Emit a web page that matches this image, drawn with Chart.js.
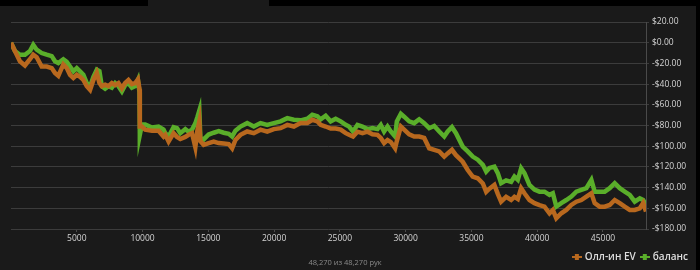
<!DOCTYPE html>
<html>
<head>
<meta charset="utf-8">
<script src="https://cdn.jsdelivr.net/npm/chart.js@4"></script>
<style>
  html, body { margin: 0; padding: 0; background: #1a1a1a; }
  #wrap { position: relative; width: 700px; height: 270px; overflow: hidden; }
  .bar { position: absolute; background: #000; }
  #hands { position: absolute; left: 0; width: 690px; top: 257px; text-align: center;
           font: 7.5px "Open Sans", sans-serif; color: #8a8a8a; }
</style>
</head>
<body>
<div id="wrap">
  <canvas id="chart" width="700" height="270"></canvas>
  <div class="bar" style="left:0;top:0;width:148px;height:6px"></div>
  <div class="bar" style="left:269px;top:0;width:431px;height:6px"></div>
  <div class="bar" style="left:696px;top:0;width:4px;height:270px"></div>
  <div id="hands">48,270 из 48,270 рук</div>
</div>
<script>
// hand number for each sample
const hands = [
  0, 297, 678, 1059, 1440, 1692, 1951, 2332, 2713, 3094,
  3345, 3597, 3978, 4237, 4488, 4740, 4999, 5250, 5502, 5761,
  6012, 6264, 6523, 6721, 6904, 7155, 7407, 7666, 7917, 8169,
  8428, 8679, 8931, 9190, 9441, 9647, 9769, 9792, 9952, 10203,
  10714, 11217, 11598, 11727, 11979, 12360, 12619, 12870, 13251, 13503,
  13762, 14013, 14166, 14318, 14394, 14646, 15027, 15408, 15789, 16170,
  16551, 16810, 17061, 17442, 17953, 18456, 18966, 19477, 19980, 20490,
  21001, 21504, 22014, 22525, 22906, 23287, 23538, 23919, 24300, 24681,
  25062, 25443, 25695, 25999, 26335, 26716, 27097, 27478, 27859, 28110,
  28362, 28621, 28872, 29200, 29329, 29634, 29886, 30267, 30648, 31029,
  31410, 31791, 32172, 32553, 32934, 33193, 33521, 33825, 34336, 34717,
  35098, 35479, 35868, 36121, 36372, 36745, 37004, 37256, 37637, 38018,
  38268, 38527, 38778, 39030, 39411, 39792, 40173, 40554, 40935, 41188,
  41451, 41832, 42213, 42594, 42975, 43356, 43737, 44118, 44369, 44750,
  45130, 45511, 45892, 46273, 46654, 47035, 47416, 47797, 48054, 48270
];

// all-in EV line ($)
const allInEV = [
  0, -8, -18, -22, -16, -11.5, -14, -23, -23, -24.5,
  -29.3, -32, -21, -24.5, -31, -34, -31, -33, -36, -42,
  -45.5, -36, -29.3, -39, -42, -40.6, -42, -39, -41, -39,
  -44, -39, -36, -40, -39, -35.5, -45, -81, -81, -84,
  -85, -85, -90.7, -89, -95.5, -87.4, -91, -93, -91, -89,
  -87.4, -101, -85, -76, -95, -98.7, -97, -95.5, -97, -97.5,
  -98, -102, -94, -89, -85.8, -87.4, -84, -86, -83.5, -82.6,
  -79.4, -81, -77.7, -77.7, -74.5, -76, -79.4, -81, -83, -83,
  -84, -87.4, -89, -90.7, -86, -87.4, -86, -88.5, -89, -92,
  -97, -94, -96, -102, -95, -81, -84, -88.5, -90.7, -90.7,
  -92, -102, -103.5, -105, -110, -107, -103.5, -108.7, -115, -123,
  -129.4, -131, -136, -144, -141, -137.4, -146, -153.6, -149, -152,
  -149, -151, -140.6, -145.5, -152, -155, -157, -158.4, -164.8, -161.6,
  -169.6, -164.8, -161.6, -156.8, -153.6, -152, -148.7, -145.5, -155, -158.4,
  -158.4, -156.8, -152, -155, -158.4, -161.6, -161.6, -160, -155, -163
];

// actual balance ($)
const balance = [
  0, -8, -11.6, -11.6, -8, -2, -6.8, -10, -11.6, -13,
  -18, -19.7, -16, -18.5, -23, -27.7, -24.5, -27.7, -31, -39,
  -42, -33, -26, -27.5, -42, -44.5, -42, -43.5, -39, -42,
  -47, -41, -39, -43.5, -42, -36, -48, -89, -79, -79,
  -82, -81, -84, -87.4, -90.7, -81.6, -82.5, -87.4, -83.5, -86,
  -84, -78, -72, -65.5, -92, -93.5, -88.7, -87, -85.5, -87,
  -88, -90.7, -85, -81, -77.7, -81, -77.7, -79.4, -77.7, -76,
  -72.9, -74.5, -75, -73.5, -69.7, -71, -74, -70.6, -76, -73.5,
  -76, -79.4, -81, -85.8, -79.4, -81, -83.5, -82.5, -83.5, -79.4,
  -85.8, -81, -85.8, -90.7, -76, -68.7, -71.5, -76, -77.7, -74,
  -77.7, -82.6, -80.5, -85.8, -90.7, -85.8, -81.6, -87.4, -100.4, -105,
  -110, -113, -118, -124.5, -121, -119.7, -126, -135.8, -133, -134.5,
  -129.4, -132.5, -121.3, -126, -137.4, -142, -143.9, -143.9, -147, -145.5,
  -158.4, -155, -152, -148.7, -143.9, -142.3, -140.6, -132.6, -143.9, -143.9,
  -143.9, -140.6, -135.8, -140.6, -143.9, -147, -153.6, -150.4, -152, -156.8
];

const seriesNames = ["Олл-ин EV", "баланс"];
const xTickValues = [5000, 10000, 15000, 20000, 25000, 30000, 35000, 40000, 45000];
const yTicks = { min: -180, max: 20, step: 20 };
const xRange = { min: 0, max: 48270 };

const orange = "#b8681e";
const green = "#5aae2a";
const labelFont = { family: "'Open Sans', sans-serif", size: 8.5 };

// little "line with a dot" legend marker
function marker(color) {
  const c = document.createElement("canvas");
  c.width = 10; c.height = 6;
  const g = c.getContext("2d");
  g.fillStyle = color;
  g.fillRect(0, 2, 10, 2);
  g.fillRect(3, 0, 4, 6);
  return c;
}

function money(v) {
  return (v < 0 ? "-$" : "$") + Math.abs(v).toFixed(2);
}

new Chart(document.getElementById("chart"), {
  type: "line",
  data: {
    datasets: [
      {
        label: seriesNames[0],
        data: hands.map((h, i) => ({ x: h, y: allInEV[i] })),
        borderColor: orange,
        backgroundColor: orange,
        borderWidth: 4.5,
        pointRadius: 0,
        pointStyle: marker(orange),
        tension: 0,
      },
      {
        label: seriesNames[1],
        data: hands.map((h, i) => ({ x: h, y: balance[i] })),
        borderColor: green,
        backgroundColor: green,
        borderWidth: 4.5,
        pointRadius: 0,
        pointStyle: marker(green),
        tension: 0,
      },
    ],
  },
  options: {
    responsive: false,
    animation: false,
    layout: { padding: { left: 11, top: 22, right: 6, bottom: 0 } },
    plugins: {
      tooltip: { enabled: false },
      legend: {
        position: "bottom",
        align: "end",
        maxHeight: 24,
        labels: {
          usePointStyle: true,
          pointStyleWidth: 6,
          padding: 6,
          color: "#dddddd",
          font: { family: "'Open Sans', sans-serif", size: 10, weight: "600" },
        },
      },
    },
    scales: {
      x: {
        type: "linear",
        min: xRange.min,
        max: xRange.max,
        afterFit: (s) => { s.height = 17; },
        afterBuildTicks: (s) => { s.ticks = xTickValues.map((v) => ({ value: v })); },
        border: { display: false },
        grid: { drawOnChartArea: false, color: "#4a4a4a", tickLength: 3 },
        ticks: {
          autoSkip: false,
          maxRotation: 0,
          padding: 1,
          color: "#d4d4d4",
          font: labelFont,
          callback: (v) => String(v),
        },
      },
      y: {
        position: "right",
        min: yTicks.min,
        max: yTicks.max,
        afterFit: (s) => { s.width = 48; },
        border: { color: "#4a4a4a" },
        grid: { color: "#3c3c3c", tickLength: 3 },
        ticks: {
          stepSize: yTicks.step,
          padding: 3,
          color: "#d4d4d4",
          font: labelFont,
          callback: (v) => money(v),
        },
      },
    },
  },
});
</script>
</body>
</html>
